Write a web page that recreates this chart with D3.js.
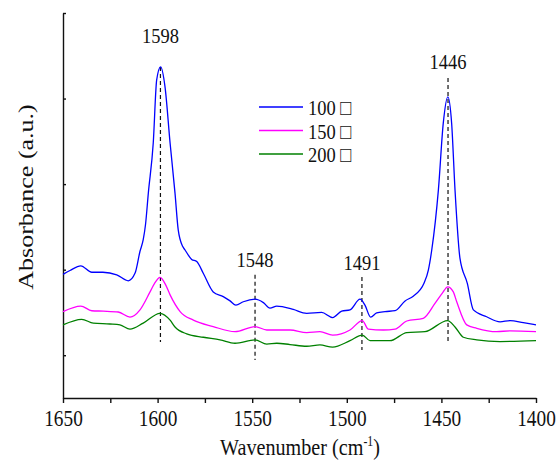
<!DOCTYPE html>
<html>
<head>
<meta charset="utf-8">
<script src="https://cdn.jsdelivr.net/npm/d3@7/dist/d3.min.js"></script>
<style>
body { margin: 0; background: #fff; }
text { font-family: "Liberation Serif", "Times New Roman", serif; fill: #111; }
</style>
</head>
<body>
<div id="chart"></div>
<script>
// spectra, [wavenumber, absorbance]
var spec100 = [[1650,0.289],[1646.3,0.298],[1640.6,0.309],[1634.8,0.294],[1628.9,0.294],[1621.6,0.288],
	[1615.5,0.274],[1611.9,0.292],[1609.3,0.343],[1607.6,0.370],[1606.4,0.405],[1604.9,0.479],[1602.3,0.596],
	[1600.5,0.743],[1598.4,0.774],[1596.1,0.728],[1593.4,0.596],[1590.8,0.479],[1589.1,0.393],[1586.7,0.354],
	[1585.5,0.346],[1582.0,0.324],[1579.3,0.319],[1575.8,0.291],[1570.6,0.248],[1565.3,0.237],[1561.7,0.227],
	[1558.6,0.217],[1554.7,0.225],[1548.5,0.231],[1544.1,0.223],[1540.6,0.210],[1537.0,0.215],[1533.6,0.213],
	[1528.3,0.207],[1521.2,0.198],[1513.3,0.200],[1507.5,0.188],[1502.7,0.203],[1498.3,0.206],[1493.0,0.231],
	[1490.4,0.217],[1487.4,0.189],[1484.2,0.199],[1479.8,0.202],[1474.5,0.204],[1469.2,0.227],[1464.9,0.238],
	[1459.2,0.268],[1456.9,0.299],[1455.1,0.346],[1451.6,0.486],[1449.0,0.643],[1446.6,0.704],[1444.6,0.643],
	[1442.8,0.486],[1440.2,0.327],[1436.3,0.268],[1433.1,0.206],[1426.1,0.190],[1419.0,0.178],[1413.7,0.181],
	[1406.7,0.176],[1400,0.171]];

var spec150 = [[1650,0.202],[1640.6,0.215],[1634.8,0.204],[1628.7,0.203],[1620.8,0.201],[1614.6,0.189],
	[1609.3,0.206],[1604.0,0.248],[1601.6,0.268],[1598.7,0.282],[1595.8,0.265],[1593.4,0.241],[1588.1,0.202],
	[1581.1,0.182],[1570.6,0.167],[1559.1,0.155],[1548.5,0.167],[1542.3,0.159],[1537.0,0.159],[1530.0,0.159],
	[1521.2,0.153],[1514.2,0.155],[1507.5,0.147],[1498.3,0.159],[1491.8,0.181],[1488.6,0.161],[1480.7,0.159],
	[1474.5,0.161],[1468.3,0.180],[1459.6,0.186],[1453.4,0.221],[1449.5,0.245],[1446.7,0.260],[1443.7,0.248],
	[1441.9,0.225],[1436.6,0.171],[1431.3,0.163],[1420.8,0.155],[1413.7,0.157],[1400,0.155]];

var spec200 = [[1650,0.171],[1640.1,0.184],[1634.0,0.175],[1625.2,0.173],[1619.9,0.171],[1614.6,0.161],
	[1607.6,0.175],[1598.7,0.198],[1593.4,0.182],[1590.8,0.166],[1584.6,0.150],[1575.8,0.142],[1567.0,0.136],
	[1559.1,0.128],[1548.5,0.136],[1542.3,0.126],[1537.0,0.128],[1530.0,0.125],[1521.2,0.121],[1514.2,0.124],
	[1507.5,0.119],[1498.3,0.134],[1491.8,0.147],[1487.7,0.134],[1477.2,0.134],[1468.3,0.153],[1458.7,0.155],
	[1446.7,0.181],[1442.8,0.166],[1438.4,0.142],[1431.3,0.136],[1419.0,0.132],[1400,0.134]];

var seriesNames = ["100 \u25A1", "150 \u25A1", "200 \u25A1"];
var seriesColors = ["#0000ff", "#ff00ff", "#008000"];

var xTickValues = [1650, 1625, 1600, 1575, 1550, 1525, 1500, 1475, 1450, 1425, 1400];
var yTickValues = [0.1, 0.3, 0.5, 0.7, 0.9];

// marked peaks: label, position, dashed line span and label height (absorbance units)
var peakLabels = ["1598", "1548", "1491", "1446"];
var peakWn     = [1598.5, 1548.5, 1492, 1446.5];
var peakTop    = [0.774, 0.288, 0.283, 0.748];
var peakBottom = [0.131, 0.089, 0.112, 0.129];
var peakTextY  = [0.830, 0.307, 0.299, 0.769];

var w = 558, h = 471, sq = "scale(0.84,1)";

var svg = d3.select("#chart").append("svg").attr("width", w).attr("height", h);

var x = d3.scaleLinear().domain([1650, 1400]).range([63, 536]);
var y = d3.scaleLinear().domain([0, 0.9]).range([398, 13]);

// axes
var xAxis = svg.append("g").attr("transform", "translate(0,398)")
	.call(d3.axisBottom(x).tickValues(xTickValues).tickSize(5).tickSizeOuter(0)
		.tickFormat(function(d) { return d % 50 == 0 ? d : ""; }));
xAxis.attr("font-family", null).attr("font-size", null);
xAxis.selectAll("text").attr("y", 12).attr("font-size", 23).attr("transform", sq);

var yAxis = svg.append("g").attr("transform", "translate(63,0)")
	.call(d3.axisLeft(y).tickValues(yTickValues).tickSize(-3).tickSizeOuter(0).tickFormat(""));

svg.selectAll(".domain, .tick line").attr("stroke", "#111").attr("stroke-width", 1.4);

// dashed peak markers
for (var i = 0; i < peakLabels.length; i++)
{
	svg.append("line")
		.attr("x1", x(peakWn[i])).attr("x2", x(peakWn[i]))
		.attr("y1", y(peakTop[i])).attr("y2", y(peakBottom[i]))
		.attr("stroke", "#111").attr("stroke-width", 1.2).attr("stroke-dasharray", "4,3");
	svg.append("text")
		.attr("transform", "translate(" + [x(peakWn[i]), y(peakTextY[i])] + ") " + sq)
		.attr("text-anchor", "middle").attr("font-size", 22)
		.text(peakLabels[i]);
}

// spectra
var line = d3.line()
	.x(function(d) { return x(d[0]); })
	.y(function(d) { return y(d[1]); })
	.curve(d3.curveMonotoneX);

var spectra = [spec100, spec150, spec200];
svg.append("g").selectAll("path").data(spectra).enter().append("path")
	.attr("d", line)
	.attr("fill", "none")
	.attr("stroke", function(d, i) { return seriesColors[i]; })
	.attr("stroke-width", 1.3);

// legend
var legend = svg.append("g");
for (var j = 0; j < seriesNames.length; j++)
{
	var ly = 107 + j * 23.5;
	legend.append("line").attr("x1", 259).attr("x2", 303).attr("y1", ly).attr("y2", ly)
		.attr("stroke", seriesColors[j]).attr("stroke-width", 1.3);
	legend.append("text").attr("transform", "translate(" + [308, ly + 8] + ") " + sq)
		.attr("font-size", 22).text(seriesNames[j]);
}

// axis titles
var xt = svg.append("text").attr("transform", "translate(300,455) " + sq)
	.attr("text-anchor", "middle").attr("font-size", 24);
xt.append("tspan").text("Wavenumber (cm");
xt.append("tspan").attr("dy", -9).attr("font-size", 14).text("-1");
xt.append("tspan").attr("dy", 9).text(")");

svg.append("text").attr("transform", "translate(33,197) rotate(-90) scale(1,0.82)")
	.attr("text-anchor", "middle").attr("font-size", 26)
	.text("Absorbance (a.u.)");
</script>
</body>
</html>
